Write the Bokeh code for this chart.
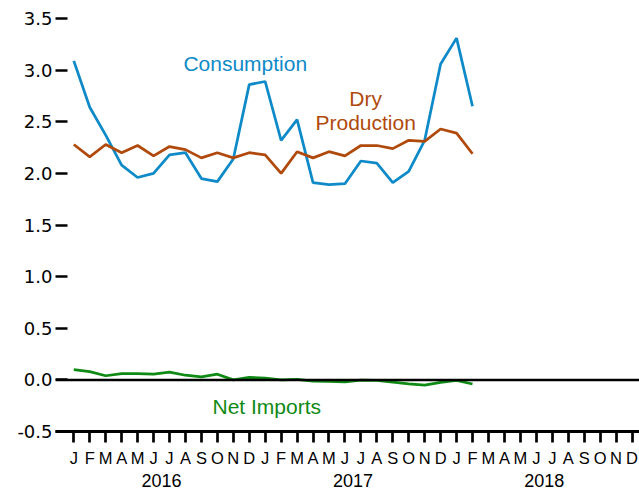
from bokeh.plotting import figure
from bokeh.models import FixedTicker, LinearAxis, Span, Range1d, NumeralTickFormatter
from bokeh.core.properties import value
from bokeh.embed import file_html
from bokeh.resources import INLINE

# ---- data (Jan 2016 .. Feb 2018), month index 0 = Jan 2016 ----
month_idx = list(range(26))
consumption = [3.09, 2.64, 2.37, 2.08, 1.96, 2.00, 2.18, 2.20, 1.95, 1.92, 2.14, 2.86,
               2.89, 2.32, 2.52, 1.91, 1.89, 1.90, 2.12, 2.10, 1.91, 2.02, 2.32, 3.06,
               3.31, 2.65]
dry_production = [2.28, 2.16, 2.28, 2.20, 2.27, 2.17, 2.26, 2.23, 2.15, 2.20, 2.15, 2.20,
                  2.18, 2.00, 2.21, 2.15, 2.21, 2.17, 2.27, 2.27, 2.24, 2.32, 2.31, 2.43,
                  2.39, 2.19]
net_imports = [0.10, 0.08, 0.04, 0.06, 0.06, 0.055, 0.075, 0.045, 0.03, 0.055, 0.00, 0.025,
               0.017, 0.00, 0.005, -0.013, -0.015, -0.02, -0.003, -0.005, -0.022, -0.038, -0.05, -0.025,
               -0.005, -0.04]

month_letters = ["J", "F", "M", "A", "M", "J", "J", "A", "S", "O", "N", "D"] * 3
years = ["2016", "2017", "2018"]
year_centers = [5.5, 17.5, 29.5]
y_ticks = [-0.5, 0.0, 0.5, 1.0, 1.5, 2.0, 2.5, 3.0, 3.5]

label_text = ["Consumption", "Dry", "Production", "Net Imports"]
label_x = [10.75, 18.3, 18.3, 12.1]
label_y = [3.065, 2.73, 2.495, -0.255]

C_BLUE = "#0e8ac8"
C_BROWN = "#b04a0c"
C_GREEN = "#0f8a14"
label_colors = [C_BLUE, C_BROWN, C_BROWN, C_GREEN]

FONT = "Liberation Sans"
FS = "21px"

p = figure(width=639, height=489, output_backend="svg", toolbar_location=None,
           x_range=Range1d(-1.147, 35.47), y_range=Range1d(-0.5, 3.626),
           min_border_left=55, min_border_right=0, min_border_top=5, min_border_bottom=0)
p.outline_line_color = None
p.xgrid.grid_line_color = None
p.ygrid.grid_line_color = None
p.background_fill_color = "white"
p.border_fill_color = "white"

# y axis
ya = p.yaxis[0]
ya.ticker = FixedTicker(ticks=y_ticks)
ya.formatter = NumeralTickFormatter(format="0.0")
ya.axis_line_color = None
ya.major_tick_in = 12
ya.major_tick_out = 0
ya.minor_tick_in = 0
ya.minor_tick_out = 0
ya.major_tick_line_width = 2.5
ya.major_tick_line_color = "black"
ya.minor_tick_line_color = None
ya.major_label_standoff = 3
ya.major_label_text_font = "DejaVu Sans"
ya.major_label_text_font_size = "18px"
ya.major_label_text_color = "black"

# month axis
xa = p.xaxis[0]
xa.ticker = FixedTicker(ticks=list(range(36)))
xa.major_label_overrides = {i: m for i, m in enumerate(month_letters)}
xa.axis_line_width = 3
xa.axis_line_color = "black"
xa.major_tick_in = 0
xa.major_tick_out = 11
xa.minor_tick_in = 0
xa.minor_tick_out = 0
xa.major_tick_line_width = 2.7
xa.major_tick_line_color = "black"
xa.minor_tick_line_color = None
xa.major_label_standoff = 6
xa.major_label_text_font = FONT
xa.major_label_text_font_size = "16.5px"
xa.major_label_text_color = "black"

# year axis
ya2 = LinearAxis(ticker=FixedTicker(ticks=year_centers),
                 major_label_overrides={c: y for c, y in zip(year_centers, years)})
ya2.axis_line_color = None
ya2.major_tick_line_color = None
ya2.minor_tick_line_color = None
ya2.major_tick_in = 0
ya2.major_tick_out = 0
ya2.minor_tick_in = 0
ya2.minor_tick_out = 0
ya2.major_label_standoff = 4
ya2.major_label_text_font = FONT
ya2.major_label_text_font_size = "18px"
ya2.major_label_text_color = "black"
p.add_layout(ya2, "below")

p.add_layout(Span(location=0, dimension="width", line_color="black", line_width=2.5))

p.line(month_idx, consumption, line_color=C_BLUE, line_width=2.75)
p.line(month_idx, dry_production, line_color=C_BROWN, line_width=2.75)
p.line(month_idx, net_imports, line_color=C_GREEN, line_width=2.75)

p.text(x=label_x, y=label_y, text=label_text, text_color=label_colors,
       text_font=value(FONT), text_font_size=FS, text_align="center",
       text_baseline="alphabetic")

open("out.html", "w").write(file_html(p, INLINE))
